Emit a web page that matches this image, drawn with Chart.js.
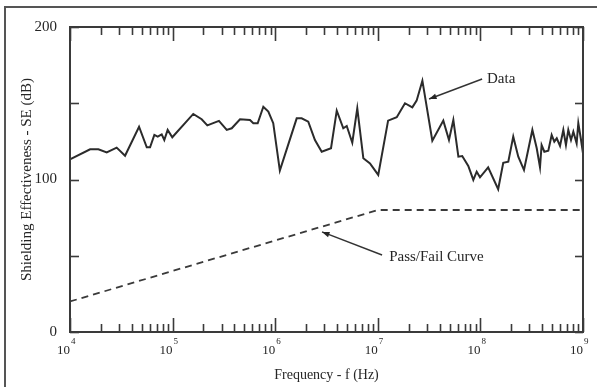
<!DOCTYPE html>
<html>
<head>
<meta charset="utf-8">
<script src="https://cdn.jsdelivr.net/npm/chart.js@4/dist/chart.umd.min.js"></script>
<style>
  html, body { margin: 0; padding: 0; background: #fff; }
  #wrap { width: 597px; height: 387px; }
</style>
</head>
<body>
<div id="wrap"><canvas id="seChart" width="597" height="387"></canvas></div>
<script>
// measured shielding effectiveness
const freqHz = [
  1.0e4, 1.57e4, 1.89e4, 2.28e4, 2.85e4, 3.44e4, 4.71e4, 5.60e4, 6.03e4, 6.64e4,
  7.16e4, 7.83e4, 8.30e4, 8.95e4, 9.93e4, 1.59e5, 1.92e5, 2.18e5, 2.83e5, 3.37e5,
  3.77e5, 4.54e5, 5.68e5, 6.12e5, 6.75e5, 7.66e5, 8.57e5, 9.57e5, 1.11e6, 1.62e6,
  1.81e6, 2.10e6, 2.44e6, 2.84e6, 3.50e6, 3.98e6, 4.61e6, 4.98e6, 5.64e6, 6.31e6,
  7.23e6, 8.39e6, 1.01e7, 1.26e7, 1.53e7, 1.84e7, 2.17e7, 2.39e7, 2.72e7, 3.40e7,
  4.35e7, 4.94e7, 5.45e7, 6.10e7, 6.65e7, 7.62e7, 8.53e7, 9.20e7, 9.91e7, 1.19e8,
  1.49e8, 1.67e8, 1.87e8, 2.09e8, 2.34e8, 2.66e8, 3.21e8, 3.54e8, 3.81e8, 3.95e8,
  4.20e8, 4.59e8, 4.95e8, 5.25e8, 5.55e8, 5.97e8, 6.43e8, 6.82e8, 7.19e8, 7.64e8,
  8.05e8, 8.67e8, 9.00e8, 9.57e8, 1.0e9
];
const shieldDb = [
  113.2, 119.8, 119.8, 117.8, 120.9, 115.6, 134.6, 121.1, 121.1, 129.2,
  128.1, 129.6, 125.9, 132.5, 127.7, 143.0, 139.5, 135.5, 138.4, 132.5,
  133.6, 139.5, 139.0, 136.9, 136.9, 147.7, 144.5, 136.9, 105.8, 140.1,
  140.1, 137.9, 125.9, 118.2, 120.5, 145.1, 133.6, 135.1, 124.1, 146.7,
  113.9, 110.6, 103.0, 138.6, 140.8, 150.0, 147.3, 151.7, 164.8, 125.4,
  138.6, 125.9, 139.0, 115.0, 115.4, 108.9, 99.7, 105.1, 101.4, 108.0,
  93.6, 111.0, 111.7, 128.1, 115.0, 106.2, 132.5, 120.5, 108.0, 122.6,
  118.2, 118.9, 129.2, 124.8, 127.0, 122.0, 132.5, 122.6, 132.5, 125.9,
  131.3, 123.7, 136.9, 125.9, 117.2
];

// pass/fail limit: 20 dB/decade up to 10 MHz, flat after
const limitHz = [1e4, 1e7, 1e9];
const limitDb = [20, 80, 80];

// axis labelling
const decadeHz = [1e4, 1e5, 1e6, 1e7, 1e8, 1e9];
const decadeExp = ['4', '5', '6', '7', '8', '9'];
const yLabelled = [0, 100, 200];
const yMinor = [50, 150];

const SERIF = "'Liberation Serif', 'Times New Roman', serif";
const INK = '#262626';

// callouts, anchored in data units
const callouts = [
  { text: 'Data', at: [1.16e8, 165.9], tail: [1.04e8, 165.9], tip: [3.16e7, 152.8] },
  { text: 'Pass/Fail Curve', at: [1.29e7, 49.2], tail: [1.10e7, 50.5], tip: [2.86e6, 65.6] }
];

function seg(ctx, x1, y1, x2, y2) {
  ctx.beginPath(); ctx.moveTo(x1, y1); ctx.lineTo(x2, y2); ctx.stroke();
}

const decorations = {
  id: 'decorations',
  afterDraw(chart) {
    const { ctx, chartArea: a, scales: { x, y } } = chart;
    ctx.save();

    // outer figure frame (left and top edges)
    ctx.strokeStyle = '#555';
    ctx.lineWidth = 2;
    ctx.beginPath();
    ctx.moveTo(5, chart.height);
    ctx.lineTo(5, 7);
    ctx.lineTo(chart.width, 7);
    ctx.stroke();

    // plot box
    ctx.strokeStyle = '#3a3a3a';
    ctx.lineWidth = 2;
    ctx.strokeRect(a.left, a.top, a.width, a.height);

    // inward log ticks on bottom and top
    ctx.lineWidth = 1.6;
    decadeHz.forEach((d, i) => {
      for (let m = 1; m <= 9; m++) {
        if (i === decadeHz.length - 1 && m > 1) break;
        const px = Math.round(x.getPixelForValue(d * m)) + 0.5;
        const len = m === 1 ? 14 : 8;
        seg(ctx, px, a.bottom, px, a.bottom - len);
        seg(ctx, px, a.top, px, a.top + len);
      }
    });

    // inward ticks on left and right
    yLabelled.concat(yMinor).forEach(v => {
      const py = Math.round(y.getPixelForValue(v)) + 0.5;
      seg(ctx, a.left, py, a.left + 9, py);
      seg(ctx, a.right, py, a.right - 8, py);
    });

    // decade labels 10^n
    ctx.fillStyle = INK;
    decadeHz.forEach((d, i) => {
      const px = x.getPixelForValue(d);
      ctx.font = '13px ' + SERIF;
      ctx.textAlign = 'right';
      ctx.textBaseline = 'middle';
      ctx.fillText('10', px, a.bottom + 19);
      ctx.font = '9px ' + SERIF;
      ctx.textAlign = 'left';
      ctx.fillText(decadeExp[i], px + 1, a.bottom + 10);
    });

    // callouts with arrows
    ctx.strokeStyle = '#333';
    ctx.fillStyle = INK;
    ctx.lineWidth = 1.4;
    callouts.forEach(c => {
      const tx = x.getPixelForValue(c.tail[0]), ty = y.getPixelForValue(c.tail[1]);
      const hx = x.getPixelForValue(c.tip[0]), hy = y.getPixelForValue(c.tip[1]);
      seg(ctx, tx, ty, hx, hy);
      const ang = Math.atan2(hy - ty, hx - tx);
      ctx.beginPath();
      ctx.moveTo(hx, hy);
      ctx.lineTo(hx - 8 * Math.cos(ang - 0.35), hy - 8 * Math.sin(ang - 0.35));
      ctx.lineTo(hx - 8 * Math.cos(ang + 0.35), hy - 8 * Math.sin(ang + 0.35));
      ctx.closePath();
      ctx.fill();
      ctx.font = '15px ' + SERIF;
      ctx.textAlign = 'left';
      ctx.textBaseline = 'middle';
      ctx.fillText(c.text, x.getPixelForValue(c.at[0]), y.getPixelForValue(c.at[1]));
    });

    ctx.restore();
  }
};

new Chart(document.getElementById('seChart'), {
  type: 'line',
  data: {
    datasets: [
      {
        label: 'Data',
        data: freqHz.map((f, i) => ({ x: f, y: shieldDb[i] })),
        borderColor: '#2b2b2b',
        borderWidth: 2,
        pointRadius: 0,
        tension: 0
      },
      {
        label: 'Pass/Fail Curve',
        data: limitHz.map((f, i) => ({ x: f, y: limitDb[i] })),
        borderColor: '#3a3a3a',
        borderWidth: 1.8,
        borderDash: [7, 5],
        pointRadius: 0,
        tension: 0
      }
    ]
  },
  options: {
    responsive: false,
    animation: false,
    layout: { padding: { top: 27, right: 14, left: 0, bottom: 0 } },
    plugins: { legend: { display: false }, tooltip: { enabled: false } },
    scales: {
      x: {
        type: 'logarithmic',
        min: 1e4,
        max: 1e9,
        grid: { display: false },
        border: { display: false },
        ticks: { display: false },
        title: {
          display: true,
          text: 'Frequency - f (Hz)',
          color: INK,
          font: { family: SERIF, size: 14 },
          padding: { top: 0, bottom: 3 }
        },
        afterFit(scale) { scale.height = 55; }
      },
      y: {
        min: 0,
        max: 200,
        grid: { display: false },
        border: { display: false },
        ticks: {
          stepSize: 100,
          color: INK,
          padding: 5,
          font: { family: SERIF, size: 15 }
        },
        title: {
          display: true,
          text: 'Shielding Effectiveness - SE (dB)',
          color: INK,
          font: { family: SERIF, size: 15 },
          padding: { top: 18, bottom: 0 }
        },
        afterFit(scale) { scale.width = 70; }
      }
    }
  },
  plugins: [decorations]
});
</script>
</body>
</html>
